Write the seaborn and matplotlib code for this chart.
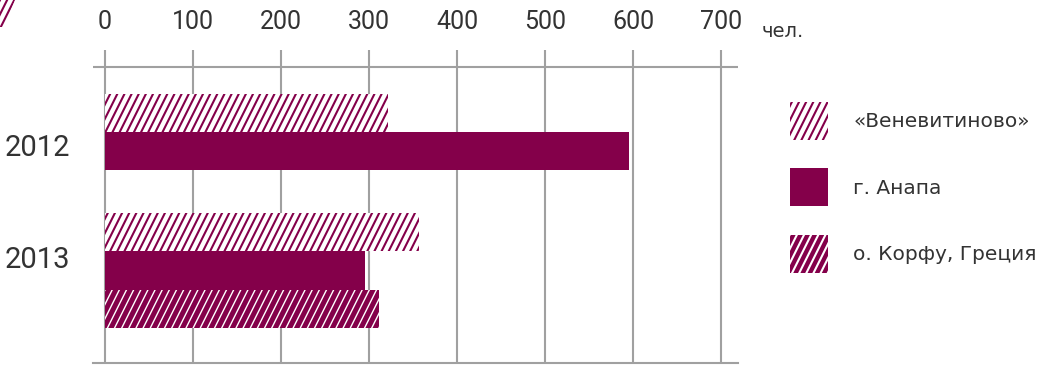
import numpy as np
import pandas as pd
import matplotlib
matplotlib.use("Agg")
import matplotlib.pyplot as plt
import matplotlib.hatch as mhatch
from matplotlib.path import Path
from matplotlib.patches import Polygon
from matplotlib.transforms import ScaledTranslation
import seaborn as sns

# ---------------- data ----------------
years = ["2012", "2013"]
series = ["«Веневитиново»", "г. Анапа", "о. Корфу, Греция"]
venevitinovo = [322, 357]
anapa = [596, 295]
korfu = [None, 311]
xticks = [0, 100, 200, 300, 400, 500, 600, 700]
unit_label = "чел."

MAROON = "#84004a"
GRID = "#a0a0a0"
TEXT = "#333333"


# ---------------- steep hatch (about 63 degrees) ----------------
class SteepHatch(mhatch.HatchPatternBase):
    def __init__(self, hatch, density):
        n = 14 if hatch.count("/") else 0
        self.num_lines = n
        if n:
            self.cs = np.arange(-n // 2, n + 1) / n
            self.num_vertices = 2 * len(self.cs)
        else:
            self.num_vertices = 0

    def set_vertices_and_codes(self, vertices, codes):
        vertices[0::2, 0] = self.cs
        vertices[0::2, 1] = 0.0
        vertices[1::2, 0] = self.cs + 0.5
        vertices[1::2, 1] = 1.0
        codes[0::2] = Path.MOVETO
        codes[1::2] = Path.LINETO


mhatch._hatch_types = [SteepHatch if t is mhatch.NorthEastHatch else t
                       for t in mhatch._hatch_types]

# ---------------- data frame ----------------
rows = []
for name, vals in zip(series, [venevitinovo, anapa, korfu]):
    for y, v in zip(years, vals):
        if v is not None:
            rows.append({"year": y, "series": name, "value": v})
df = pd.DataFrame(rows)

# ---------------- figure ----------------
sns.set_theme(style="white")
plt.rcParams["font.family"] = ["Roboto", "DejaVu Sans"]
plt.rcParams["hatch.linewidth"] = 1.5

W, H = 1056, 369
fig = plt.figure(figsize=(W / 100, H / 100), dpi=100)
ax = fig.add_axes([93 / W, 1 - 363 / H, (738 - 93) / W, (363 - 50) / H])

sns.barplot(data=df, y="year", x="value", hue="series", order=years,
            hue_order=series, orient="h", width=0.954, palette=[MAROON] * 3,
            saturation=1, errorbar=None, legend=False, ax=ax)


def set_hlw(p, lw):
    if hasattr(p, "set_hatch_linewidth"):
        p.set_hatch_linewidth(lw)
    else:
        p._hatch_linewidth = lw


styles = [
    dict(facecolor="white", edgecolor=MAROON, hatch="//", hlw=1.5),
    dict(facecolor=MAROON, edgecolor=MAROON, hatch=None, hlw=1.0),
    dict(facecolor=MAROON, edgecolor="white", hatch="//", hlw=1.0),
]
for cont, st in zip(ax.containers, styles):
    for p in cont.patches:
        p.set_facecolor(st["facecolor"])
        p.set_edgecolor(st["edgecolor"])
        p.set_hatch(st["hatch"])
        p.set_linewidth(0)
        set_hlw(p, st["hlw"])

# axes ranges
ax.set_xlim(-13.6, 719.3)
ax.set_ylim(1.774, -0.845)

# x axis on top
ax.xaxis.tick_top()
ax.set_xticks(xticks)
ax.set_xticklabels([str(t) for t in xticks])
ax.tick_params(axis="x", which="major", top=True, bottom=False, length=0,
               pad=11.5, labelsize=18, labelcolor=TEXT)
ax.set_xticks([0, 700], minor=True)
ax.tick_params(axis="x", which="minor", bottom=True, top=False, length=4.5,
               width=1.5, color=GRID, direction="out")
ax.set_xlabel("")
ax.set_ylabel("")

ax.tick_params(axis="y", length=0, pad=16.5, labelsize=21, labelcolor=TEXT)
offsets = [5.5, 13]
for lab, dy in zip(ax.get_yticklabels(), offsets):
    lab.set_transform(lab.get_transform() +
                      ScaledTranslation(0, dy / 100, fig.dpi_scale_trans))

ax.grid(axis="x", color=GRID, lw=1.5)
ax.grid(axis="y", visible=False)
ax.set_axisbelow(True)
ax.axhline(-0.703, color=GRID, lw=1.5, zorder=0.5)

for s in ["top", "left", "right"]:
    ax.spines[s].set_visible(False)
ax.spines["bottom"].set_color(GRID)
ax.spines["bottom"].set_linewidth(1.5)

fig.text(762 / W, 1 - 37 / H, unit_label, fontsize=14, color=TEXT,
         va="baseline", ha="left", family=["DejaVu Sans"])

# legend
fs = 14.5
leg = ax.legend(ax.containers, series, loc="upper left",
                bbox_to_anchor=(790 / W, 1 - 102 / H),
                bbox_transform=fig.transFigure, frameon=False, borderpad=0,
                prop={"family": ["DejaVu Sans"], "size": fs},
                handlelength=1.89, handleheight=2.526,
                labelspacing=1.415, handletextpad=1.24, borderaxespad=0)
for t in leg.get_texts():
    t.set_color(TEXT)

# decorative hatched corner piece (top-left)
corner = Polygon([(0 / W, 1.0), (15 / W, 1.0), (4 / W, 1 - 27 / H), (0, 1 - 27 / H)],
                 closed=True, transform=fig.transFigure, facecolor="white",
                 edgecolor=MAROON, hatch="//", lw=0)
set_hlw(corner, 1.5)
fig.patches.append(corner)

fig.savefig("out.png", dpi=100)
